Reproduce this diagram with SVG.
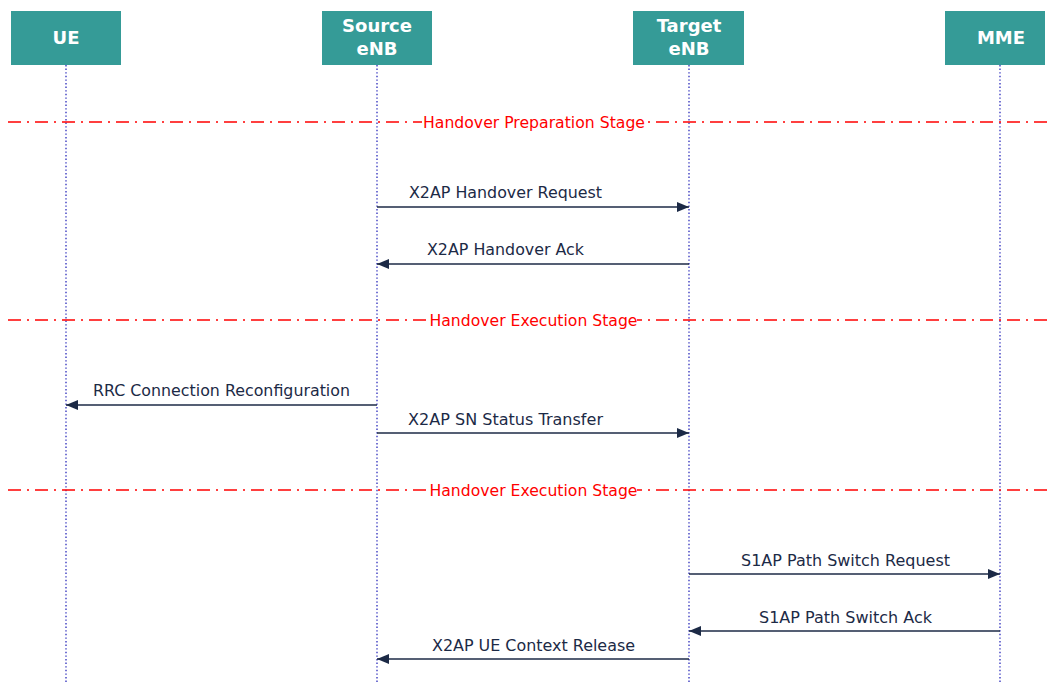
<svg xmlns="http://www.w3.org/2000/svg" width="1049" height="682" viewBox="0 0 1049 682">
  <defs>
    <style>
      .hdr { fill: #359b97; }
      .hdr-t { font-family: "DejaVu Sans", Verdana, sans-serif; font-size: 18px; font-weight: bold; fill: #ffffff; text-anchor: middle; }
      .life { stroke: #3a3ac0; stroke-width: 1.4; stroke-dasharray: 1.4 2.2; fill: none; }
      .stage { stroke: #ff0000; stroke-width: 1.6; stroke-dasharray: 13 6 2 6; fill: none; }
      .stage-t { font-family: "DejaVu Sans", Verdana, sans-serif; font-size: 15.5px; fill: #ff0000; text-anchor: middle; }
      .msg { stroke: #1c2a46; stroke-width: 1.5; fill: none; marker-end: url(#ah); }
      .msg-t { font-family: "DejaVu Sans", Verdana, sans-serif; font-size: 15.5px; fill: #1c2a46; text-anchor: middle; }
    </style>
    <marker id="ah" viewBox="0 0 12 10" refX="12" refY="5" markerWidth="12" markerHeight="10" markerUnits="userSpaceOnUse" orient="auto">
      <path d="M0,0 L12,5 L0,10 Z" fill="#1c2a46"/>
    </marker>
  </defs>

  <rect width="1049" height="682" fill="#ffffff"/>

  <!-- participants -->
  <g id="ue">
    <rect class="hdr" x="11" y="11" width="110" height="54"/>
    <text class="hdr-t" x="66" y="44">UE</text>
    <line class="life" x1="66" y1="65" x2="66" y2="682"/>
  </g>
  <g id="source-enb">
    <rect class="hdr" x="322" y="11" width="110" height="54"/>
    <text class="hdr-t" x="377" y="32">Source</text>
    <text class="hdr-t" x="377" y="55">eNB</text>
    <line class="life" x1="377" y1="65" x2="377" y2="682"/>
  </g>
  <g id="target-enb">
    <rect class="hdr" x="633" y="11" width="111" height="54"/>
    <text class="hdr-t" x="689" y="32">Target</text>
    <text class="hdr-t" x="689" y="55">eNB</text>
    <line class="life" x1="689" y1="65" x2="689" y2="682"/>
  </g>
  <g id="mme">
    <rect class="hdr" x="945" y="11" width="100" height="54"/>
    <text class="hdr-t" x="1001" y="44">MME</text>
    <line class="life" x1="1000" y1="65" x2="1000" y2="682"/>
  </g>

  <!-- stage separators -->
  <g id="stages">
    <line class="stage" x1="8" y1="122" x2="1049" y2="122"/>
    <rect x="422" y="110" width="223" height="24" fill="#ffffff"/>
    <text class="stage-t" x="534" y="128" textLength="222" lengthAdjust="spacingAndGlyphs">Handover Preparation Stage</text>

    <line class="stage" x1="8" y1="320" x2="1049" y2="320"/>
    <rect x="430" y="308" width="207" height="24" fill="#ffffff"/>
    <text class="stage-t" x="533.5" y="326" textLength="208" lengthAdjust="spacingAndGlyphs">Handover Execution Stage</text>

    <line class="stage" x1="8" y1="490" x2="1049" y2="490"/>
    <rect x="430" y="478" width="207" height="24" fill="#ffffff"/>
    <text class="stage-t" x="533.5" y="496" textLength="208" lengthAdjust="spacingAndGlyphs">Handover Execution Stage</text>
  </g>

  <!-- messages -->
  <g id="connectors">
    <line class="msg" x1="377" y1="207" x2="689" y2="207"/>
    <text class="msg-t" x="505.5" y="198" textLength="193" lengthAdjust="spacingAndGlyphs">X2AP Handover Request</text>

    <line class="msg" x1="689" y1="264" x2="377" y2="264"/>
    <text class="msg-t" x="505.5" y="255" textLength="157" lengthAdjust="spacingAndGlyphs">X2AP Handover Ack</text>

    <line class="msg" x1="377" y1="405" x2="66" y2="405"/>
    <text class="msg-t" x="221.5" y="396" textLength="257" lengthAdjust="spacingAndGlyphs">RRC Connection Reconfiguration</text>

    <line class="msg" x1="377" y1="433" x2="689" y2="433"/>
    <text class="msg-t" x="505.5" y="425" textLength="195" lengthAdjust="spacingAndGlyphs">X2AP SN Status Transfer</text>

    <line class="msg" x1="689" y1="574" x2="1000" y2="574"/>
    <text class="msg-t" x="845.5" y="566" textLength="209" lengthAdjust="spacingAndGlyphs">S1AP Path Switch Request</text>

    <line class="msg" x1="1000" y1="631" x2="689" y2="631"/>
    <text class="msg-t" x="845.5" y="623" textLength="173" lengthAdjust="spacingAndGlyphs">S1AP Path Switch Ack</text>

    <line class="msg" x1="689" y1="659" x2="377" y2="659"/>
    <text class="msg-t" x="533.5" y="651" textLength="203" lengthAdjust="spacingAndGlyphs">X2AP UE Context Release</text>
  </g>
</svg>
